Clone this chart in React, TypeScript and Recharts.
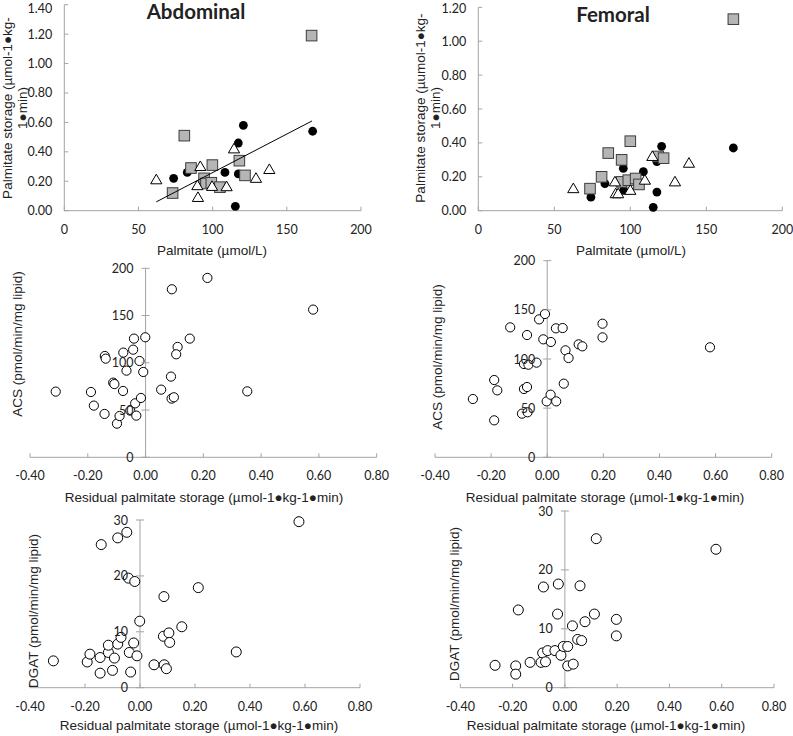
import React from 'react';
import { ScatterChart, Scatter, XAxis, YAxis, ReferenceLine } from 'recharts';

// ---- top row: palmitate storage vs plasma palmitate ----
const abdBlack = [
  { x: 73.7, y: 0.22 }, { x: 82.9, y: 0.26 }, { x: 108.3, y: 0.26 }, { x: 117.3, y: 0.46 },
  { x: 120.7, y: 0.58 }, { x: 117.3, y: 0.25 }, { x: 115.3, y: 0.03 }, { x: 167.4, y: 0.54 },
];
const abdGray = [
  { x: 80.9, y: 0.51 }, { x: 166.7, y: 1.19 }, { x: 85.4, y: 0.29 }, { x: 99.8, y: 0.31 },
  { x: 73.0, y: 0.12 }, { x: 94.2, y: 0.22 }, { x: 95.5, y: 0.185 }, { x: 99.1, y: 0.19 },
  { x: 104.9, y: 0.16 }, { x: 118.0, y: 0.34 }, { x: 121.8, y: 0.24 },
];
const abdOpen = [
  { x: 62.0, y: 0.21 }, { x: 91.7, y: 0.3 }, { x: 114.4, y: 0.42 }, { x: 138.2, y: 0.28 },
  { x: 129.2, y: 0.22 }, { x: 89.7, y: 0.17 }, { x: 90.1, y: 0.09 }, { x: 99.6, y: 0.165 },
  { x: 109.4, y: 0.163 },
];
const abdTrend = [{ x: 62, y: 0.06 }, { x: 167, y: 0.61 }];

const femBlack = [
  { x: 74.1, y: 0.08 }, { x: 83.3, y: 0.16 }, { x: 95.4, y: 0.25 }, { x: 95.6, y: 0.12 },
  { x: 108.6, y: 0.23 }, { x: 120.6, y: 0.38 }, { x: 117.5, y: 0.29 }, { x: 117.5, y: 0.11 },
  { x: 115.1, y: 0.02 }, { x: 167.8, y: 0.37 },
];
const femGray = [
  { x: 167.8, y: 1.13 }, { x: 100.0, y: 0.41 }, { x: 85.5, y: 0.34 }, { x: 94.3, y: 0.3 },
  { x: 81.1, y: 0.2 }, { x: 73.5, y: 0.13 }, { x: 94.3, y: 0.17 }, { x: 98.7, y: 0.18 },
  { x: 103.5, y: 0.19 }, { x: 105.7, y: 0.155 }, { x: 118.4, y: 0.32 }, { x: 121.9, y: 0.31 },
];
const femOpen = [
  { x: 62.5, y: 0.13 }, { x: 89.9, y: 0.17 }, { x: 90.4, y: 0.1 }, { x: 92.0, y: 0.1 },
  { x: 100.0, y: 0.12 }, { x: 109.6, y: 0.18 }, { x: 114.5, y: 0.32 }, { x: 129.4, y: 0.17 },
  { x: 138.6, y: 0.28 },
];

// ---- middle row: ACS vs residual storage ----
const acsAbd = [
  { x: -0.311, y: 69.5 }, { x: -0.189, y: 69.1 }, { x: -0.179, y: 54.7 }, { x: -0.142, y: 45.9 },
  { x: -0.141, y: 107.2 }, { x: -0.138, y: 104.4 }, { x: -0.112, y: 79 }, { x: -0.108, y: 77.5 },
  { x: -0.099, y: 35.6 }, { x: -0.09, y: 43.7 }, { x: -0.078, y: 70.2 }, { x: -0.077, y: 110.8 },
  { x: -0.066, y: 91.7 }, { x: -0.053, y: 49.4 }, { x: -0.043, y: 113.9 }, { x: -0.04, y: 125.6 },
  { x: -0.036, y: 57.1 }, { x: -0.032, y: 44.1 }, { x: -0.021, y: 101.9 }, { x: -0.016, y: 62.8 },
  { x: -0.008, y: 90.3 }, { x: -0.001, y: 127 }, { x: 0.054, y: 71.6 }, { x: 0.088, y: 85.4 },
  { x: 0.09, y: 62.1 }, { x: 0.098, y: 63.5 }, { x: 0.091, y: 177.8 }, { x: 0.111, y: 116.8 },
  { x: 0.106, y: 109 }, { x: 0.153, y: 125.6 }, { x: 0.214, y: 189.8 }, { x: 0.352, y: 69.8 },
  { x: 0.58, y: 156.3 },
];
const acsFem = [
  { x: -0.265, y: 59.3 }, { x: -0.189, y: 78.6 }, { x: -0.189, y: 37.6 }, { x: -0.178, y: 68.1 },
  { x: -0.132, y: 132.2 }, { x: -0.09, y: 44.4 }, { x: -0.072, y: 124.4 }, { x: -0.083, y: 69.5 },
  { x: -0.072, y: 71.5 }, { x: -0.083, y: 94.9 }, { x: -0.067, y: 94.2 }, { x: -0.07, y: 45.8 },
  { x: -0.038, y: 96.3 }, { x: -0.029, y: 140.3 }, { x: -0.008, y: 145.8 }, { x: -0.014, y: 120 },
  { x: -0.002, y: 56.9 }, { x: 0.012, y: 63.7 }, { x: 0.013, y: 117.3 }, { x: 0.032, y: 56.9 },
  { x: 0.031, y: 131.2 }, { x: 0.055, y: 131.5 }, { x: 0.059, y: 74.9 }, { x: 0.065, y: 108.8 },
  { x: 0.076, y: 101 }, { x: 0.112, y: 114.9 }, { x: 0.125, y: 112.9 }, { x: 0.197, y: 135.9 },
  { x: 0.197, y: 122 }, { x: 0.58, y: 111.9 },
];

// ---- bottom row: DGAT vs residual storage ----
const dgatAbd = [
  { x: -0.315, y: 4.8 }, { x: -0.192, y: 4.6 }, { x: -0.182, y: 6.0 }, { x: -0.145, y: 2.6 },
  { x: -0.145, y: 5.4 }, { x: -0.141, y: 25.6 }, { x: -0.115, y: 6.3 }, { x: -0.115, y: 7.6 },
  { x: -0.1, y: 3.1 }, { x: -0.093, y: 5.3 }, { x: -0.081, y: 26.8 }, { x: -0.081, y: 7.8 },
  { x: -0.069, y: 9.0 }, { x: -0.048, y: 27.8 }, { x: -0.042, y: 19.6 }, { x: -0.039, y: 6.3 },
  { x: -0.034, y: 2.8 }, { x: -0.023, y: 8.0 }, { x: -0.019, y: 19.0 }, { x: -0.011, y: 5.7 },
  { x: -0.001, y: 11.9 }, { x: 0.051, y: 4.1 }, { x: 0.085, y: 9.2 }, { x: 0.087, y: 16.3 },
  { x: 0.088, y: 4.1 }, { x: 0.096, y: 3.4 }, { x: 0.105, y: 9.8 }, { x: 0.108, y: 8.1 },
  { x: 0.152, y: 10.9 }, { x: 0.212, y: 17.9 }, { x: 0.35, y: 6.4 }, { x: 0.578, y: 29.7 },
];
const dgatFem = [
  { x: -0.267, y: 3.8 }, { x: -0.188, y: 3.7 }, { x: -0.188, y: 2.3 }, { x: -0.178, y: 13.2 },
  { x: -0.133, y: 4.3 }, { x: -0.091, y: 4.3 }, { x: -0.085, y: 5.9 }, { x: -0.082, y: 17.1 },
  { x: -0.074, y: 4.4 }, { x: -0.066, y: 6.3 }, { x: -0.038, y: 6.3 }, { x: -0.028, y: 12.5 },
  { x: -0.025, y: 17.6 }, { x: -0.015, y: 5.5 }, { x: -0.006, y: 7.0 }, { x: 0.011, y: 7.0 },
  { x: 0.011, y: 3.7 }, { x: 0.032, y: 4.0 }, { x: 0.029, y: 10.5 }, { x: 0.049, y: 8.2 },
  { x: 0.058, y: 17.3 }, { x: 0.064, y: 8.0 }, { x: 0.077, y: 11.2 }, { x: 0.113, y: 12.5 },
  { x: 0.12, y: 25.3 }, { x: 0.197, y: 11.6 }, { x: 0.197, y: 8.8 }, { x: 0.578, y: 23.5 },
];

const palmTicks = [0, 50, 100, 150, 200];
const abdStorageTicks = [0, 0.2, 0.4, 0.6, 0.8, 1.0, 1.2, 1.4];
const femStorageTicks = [0, 0.2, 0.4, 0.6, 0.8, 1.0, 1.2];
const residualTicks = [-0.4, -0.2, 0, 0.2, 0.4, 0.6, 0.8];
const acsTicks = [0, 50, 100, 150, 200];
const dgatTicks = [0, 10, 20, 30];

const AXIS = '#a3a3a3';
const TICK_FONT = 'Lato, "Open Sans", sans-serif';
const LABEL_FONT = '"Liberation Sans", Arial, sans-serif';

const blackDot = (p: any) => <circle cx={p.cx} cy={p.cy} r={4.4} fill="#000" />;
const graySquare = (p: any) => (
  <rect x={p.cx - 5.3} y={p.cy - 5.3} width={10.6} height={10.6} fill="#b5b5b5" stroke="#3c3c3c" strokeWidth={1} />
);
const openTriangle = (p: any) => (
  <path d={`M${p.cx},${p.cy - 5.6} L${p.cx + 5.6},${p.cy + 4} L${p.cx - 5.6},${p.cy + 4} Z`} fill="#fff" stroke="#000" strokeWidth={1} />
);
const openCircle = (r: number) => (p: any) => (
  <circle cx={p.cx} cy={p.cy} r={r} fill="#fff" stroke="#000" strokeWidth={1} />
);
const noDot = () => <g />;

type Box = { left: number; top: number; w: number; h: number };
type Plot = { x0: number; y0: number; x1: number; y1: number };

function Panel(props: {
  box: Box; plot: Plot;
  xDomain: number[]; xTicks: number[]; xDigits: number;
  yDomain: number[]; yTicks: number[]; yDigits: number;
  cross?: boolean; children: React.ReactNode;
}) {
  const { box, plot, xDomain, xTicks, xDigits, yDomain, yTicks, yDigits, cross, children } = props;
  const yAxisW = cross ? 1 : plot.x0 - box.left;
  const margin = {
    top: plot.y0 - box.top,
    right: box.left + box.w - plot.x1,
    bottom: 0,
    left: plot.x0 - box.left - yAxisW,
  };
  const xAxisH = box.top + box.h - plot.y1;
  // y axis crosses at x = 0 in the residual plots
  const crossDx = cross ? ((plot.x1 - plot.x0) * (0 - xDomain[0])) / (xDomain[1] - xDomain[0]) : 0;

  const xTick = (p: any) => (
    <g>
      <line x1={p.x} x2={p.x} y1={p.y} y2={p.y - 4} stroke={AXIS} />
      <text x={p.x} y={p.y + 23} textAnchor="middle" fontFamily={TICK_FONT} fontSize={12.5} fill="#222">
        {Number(p.payload.value).toFixed(xDigits)}
      </text>
    </g>
  );
  const yTick = (p: any) => {
    const ax = p.x + crossDx;
    return (
      <g>
        <line x1={cross ? ax - 4 : ax} x2={ax + 4} y1={p.y} y2={p.y} stroke={AXIS} />
        <text x={ax - 12} y={Math.max(p.y, 8)} dy={4.5} textAnchor="end" fontFamily={TICK_FONT} fontSize={12.5} fill="#222">
          {Number(p.payload.value).toFixed(yDigits)}
        </text>
      </g>
    );
  };

  return (
    <div style={{ position: 'absolute', left: box.left, top: box.top }}>
      <ScatterChart width={box.w} height={box.h} margin={margin}>
        <XAxis
          type="number" dataKey="x" domain={xDomain} ticks={xTicks} interval={0}
          height={xAxisH} axisLine={{ stroke: AXIS }}
          tickLine={false} tickSize={0} tickMargin={0} tick={xTick}
        />
        <YAxis
          type="number" dataKey="y" domain={yDomain} ticks={yTicks} interval={0}
          width={yAxisW} axisLine={cross ? false : { stroke: AXIS }}
          tickLine={false} tickSize={0} tickMargin={0} tick={yTick}
        />
        {cross && <ReferenceLine x={0} stroke={AXIS} strokeWidth={1} />}
        {children}
      </ScatterChart>
    </div>
  );
}

function Txt(props: { x: number; y: number; rotate?: boolean; size?: number; bold?: boolean; font?: string; children: React.ReactNode }) {
  const { x, y, rotate, size = 13.5, bold, font = LABEL_FONT, children } = props;
  return (
    <div
      style={{
        position: 'absolute', left: x, top: y,
        transform: `translate(-50%, -50%)${rotate ? ' rotate(-90deg)' : ''}`,
        fontFamily: font, fontSize: size, fontWeight: bold ? 700 : 400,
        whiteSpace: 'pre', textAlign: 'center', lineHeight: '15px', color: '#222',
      }}
    >
      {children}
    </div>
  );
}

export default function App() {
  return (
    <div style={{ position: 'absolute', left: 0, top: 0, width: 793, height: 736, background: '#fff', overflow: 'hidden' }}>
      <Panel
        box={{ left: 0, top: 0, w: 390, h: 240 }} plot={{ x0: 64.3, y0: 4.7, x1: 361, y1: 210.7 }}
        xDomain={[0, 200]} xTicks={palmTicks} xDigits={0}
        yDomain={[0, 1.4]} yTicks={abdStorageTicks} yDigits={2}
      >
        <Scatter data={abdBlack} shape={blackDot} isAnimationActive={false} />
        <Scatter data={abdGray} shape={graySquare} isAnimationActive={false} />
        <Scatter data={abdOpen} shape={openTriangle} isAnimationActive={false} />
        <Scatter data={abdTrend} shape={noDot} line={{ stroke: '#000', strokeWidth: 1 }} isAnimationActive={false} />
      </Panel>
      <Panel
        box={{ left: 395, top: 0, w: 398, h: 240 }} plot={{ x0: 478.3, y0: 7.3, x1: 782.3, y1: 210.7 }}
        xDomain={[0, 200]} xTicks={palmTicks} xDigits={0}
        yDomain={[0, 1.2]} yTicks={femStorageTicks} yDigits={2}
      >
        <Scatter data={femBlack} shape={blackDot} isAnimationActive={false} />
        <Scatter data={femGray} shape={graySquare} isAnimationActive={false} />
        <Scatter data={femOpen} shape={openTriangle} isAnimationActive={false} />
      </Panel>
      <Panel
        box={{ left: 0, top: 245, w: 390, h: 240 }} plot={{ x0: 30, y0: 268.3, x1: 376.7, y1: 457.3 }}
        xDomain={[-0.4, 0.8]} xTicks={residualTicks} xDigits={2}
        yDomain={[0, 200]} yTicks={acsTicks} yDigits={0} cross
      >
        <Scatter data={acsAbd} shape={openCircle(4.6)} isAnimationActive={false} />
      </Panel>
      <Panel
        box={{ left: 395, top: 245, w: 398, h: 240 }} plot={{ x0: 435, y0: 260.7, x1: 771.7, y1: 457.3 }}
        xDomain={[-0.4, 0.8]} xTicks={residualTicks} xDigits={2}
        yDomain={[0, 200]} yTicks={acsTicks} yDigits={0} cross
      >
        <Scatter data={acsFem} shape={openCircle(4.6)} isAnimationActive={false} />
      </Panel>
      <Panel
        box={{ left: 0, top: 500, w: 390, h: 220 }} plot={{ x0: 30, y0: 520, x1: 360, y1: 687.7 }}
        xDomain={[-0.4, 0.8]} xTicks={residualTicks} xDigits={2}
        yDomain={[0, 30]} yTicks={dgatTicks} yDigits={0} cross
      >
        <Scatter data={dgatAbd} shape={openCircle(5)} isAnimationActive={false} />
      </Panel>
      <Panel
        box={{ left: 395, top: 500, w: 398, h: 220 }} plot={{ x0: 460.3, y0: 511, x1: 774, y1: 687.7 }}
        xDomain={[-0.4, 0.8]} xTicks={residualTicks} xDigits={2}
        yDomain={[0, 30]} yTicks={dgatTicks} yDigits={0} cross
      >
        <Scatter data={dgatFem} shape={openCircle(5)} isAnimationActive={false} />
      </Panel>

      <Txt x={196} y={11} size={20.5} bold font={TICK_FONT}>Abdominal</Txt>
      <Txt x={613} y={14} size={20.5} bold font={TICK_FONT}>Femoral</Txt>

      <Txt x={14.5} y={108} rotate>{'Palmitate storage (µmol-1●kg-\n1●min)'}</Txt>
      <Txt x={428} y={108} rotate>{'Palmitate storage (µumol-1●kg-\n1●min)'}</Txt>
      <Txt x={212} y={250}>Palmitate (µmol/L)</Txt>
      <Txt x={631} y={250}>Palmitate (µmol/L)</Txt>

      <Txt x={17} y={344} rotate>ACS (pmol/min/mg lipid)</Txt>
      <Txt x={437} y={357} rotate>ACS (pmol/min/mg lipid)</Txt>
      <Txt x={204} y={497}>Residual palmitate storage (µmol-1●kg-1●min)</Txt>
      <Txt x={605} y={497}>Residual palmitate storage (µmol-1●kg-1●min)</Txt>

      <Txt x={33} y={611} rotate>DGAT (pmol/min/mg lipid)</Txt>
      <Txt x={454} y={604} rotate>DGAT (pmol/min/mg lipid)</Txt>
      <Txt x={199} y={725}>Residual palmitate storage (µmol-1●kg-1●min)</Txt>
      <Txt x={606} y={725}>Residual palmitate storage (µmol-1●kg-1●min)</Txt>
    </div>
  );
}
